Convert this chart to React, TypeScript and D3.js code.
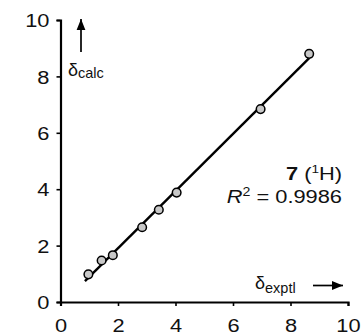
import React, { useEffect, useRef } from "react";
import * as d3 from "d3";

// experimental vs calculated shifts (1H)
const exptl = [0.97, 1.43, 1.82, 2.84, 3.42, 4.04, 6.96, 8.65];
const calc = [0.98, 1.47, 1.66, 2.65, 3.27, 3.88, 6.84, 8.8];
const ticks = [0, 2, 4, 6, 8, 10];
const compound = "7";
const nucleus = "1";
const r2 = "0.9986";

const W = 362;
const H = 336;
const FONT = "Arial, 'Liberation Sans', sans-serif";
const SX = 1.18; // the original lettering is a bit wider than Arial

const App = () => {
  const svgRef = useRef<SVGSVGElement>(null);

  useEffect(() => {
    const svg = d3.select(svgRef.current);
    svg.selectAll("*").remove();

    const x = d3.scaleLinear().domain([0, 10]).range([60.5, 348]);
    const y = d3.scaleLinear().domain([0, 10]).range([302, 20]);

    const defs = svg.append("defs");
    defs
      .append("marker")
      .attr("id", "head")
      .attr("viewBox", "0 0 10 10")
      .attr("refX", 10)
      .attr("refY", 5)
      .attr("markerWidth", 11)
      .attr("markerHeight", 11)
      .attr("markerUnits", "userSpaceOnUse")
      .attr("orient", "auto")
      .append("path")
      .attr("d", "M0,1 L10,5 L0,9 Z")
      .attr("fill", "#000");

    // axes
    const xAxis = svg
      .append("g")
      .attr("transform", `translate(0,${y(0)})`)
      .call(d3.axisBottom(x).tickValues(ticks).tickSize(4).tickPadding(13).tickSizeOuter(4));
    const yAxis = svg
      .append("g")
      .attr("transform", `translate(${x(0)},0)`)
      .call(d3.axisLeft(y).tickValues(ticks).tickSize(4).tickPadding(7).tickSizeOuter(4));

    [xAxis, yAxis].forEach((g) => {
      g.select(".domain").attr("stroke-width", 2.2);
      g.selectAll(".tick line").attr("stroke-width", 1.6);
      g.selectAll(".tick text")
        .attr("font-family", FONT)
        .attr("font-size", 18.5)
        .attr("fill", "#111")
        .attr("transform", `scale(${SX},1)`);
    });
    xAxis.selectAll(".tick text").attr("dy", "0.71em");
    yAxis.selectAll(".tick text").attr("dy", "0.36em").attr("x", -11 / SX);

    // regression line
    const reg = d3.zip(exptl, calc);
    const mx = d3.mean(exptl)!;
    const my = d3.mean(calc)!;
    const slope =
      d3.sum(reg, (d) => (d[0] - mx) * (d[1] - my)) / d3.sum(exptl, (v) => (v - mx) ** 2);
    const icpt = my - slope * mx;
    const lx = [d3.min(exptl)! - 0.12, d3.max(exptl)!];
    svg
      .append("line")
      .attr("x1", x(lx[0]))
      .attr("y1", y(icpt + slope * lx[0]))
      .attr("x2", x(lx[1]))
      .attr("y2", y(icpt + slope * lx[1]))
      .attr("stroke", "#000")
      .attr("stroke-width", 2.4);

    svg
      .selectAll(".pt")
      .data(reg)
      .join("circle")
      .attr("class", "pt")
      .attr("cx", (d) => x(d[0]))
      .attr("cy", (d) => y(d[1]))
      .attr("r", 4.3)
      .attr("fill", "#c8c8c8")
      .attr("stroke", "#000")
      .attr("stroke-width", 1.5);

    // axis labels with arrows
    const yl = svg
      .append("text")
      .attr("x", 68)
      .attr("y", 76)
      .attr("font-family", FONT)
      .attr("font-size", 18)
      .attr("fill", "#111");
    yl.append("tspan").text("δ");
    yl.append("tspan").attr("font-size", 14.5).attr("dy", 2).text("calc");
    svg
      .append("line")
      .attr("x1", 81)
      .attr("y1", 52)
      .attr("x2", 81)
      .attr("y2", 19)
      .attr("stroke", "#000")
      .attr("stroke-width", 1.7)
      .attr("marker-end", "url(#head)");

    const xl = svg
      .append("text")
      .attr("x", 255)
      .attr("y", 289)
      .attr("font-family", FONT)
      .attr("font-size", 18)
      .attr("fill", "#111");
    xl.append("tspan").text("δ");
    xl.append("tspan").attr("font-size", 14.5).attr("dy", 4).text("exptl");
    svg
      .append("line")
      .attr("x1", 313)
      .attr("y1", 285.5)
      .attr("x2", 343)
      .attr("y2", 285.5)
      .attr("stroke", "#000")
      .attr("stroke-width", 1.7)
      .attr("marker-end", "url(#head)");

    // annotation
    const note = svg.append("g").attr("transform", `translate(342,0) scale(${SX},1)`);
    const t1 = note
      .append("text")
      .attr("x", 0)
      .attr("y", 180)
      .attr("text-anchor", "end")
      .attr("font-family", FONT)
      .attr("font-size", 18.5)
      .attr("fill", "#111");
    t1.append("tspan").attr("font-weight", "bold").text(compound);
    t1.append("tspan").text(" (");
    t1.append("tspan").attr("font-size", 11.5).attr("dy", -7).text(nucleus);
    t1.append("tspan").attr("dy", 7).text("H)");

    const t2 = note
      .append("text")
      .attr("x", 0)
      .attr("y", 203)
      .attr("text-anchor", "end")
      .attr("font-family", FONT)
      .attr("font-size", 18.5)
      .attr("fill", "#111");
    t2.append("tspan").attr("font-style", "italic").text("R");
    t2.append("tspan").attr("font-size", 12).attr("dy", -7).text("2");
    t2.append("tspan").attr("dy", 7).text(` = ${r2}`);
  }, []);

  return (
    <svg
      ref={svgRef}
      width={W}
      height={H}
      style={{ position: "absolute", left: 0, top: 0, background: "#fff" }}
    />
  );
};

export default App;
